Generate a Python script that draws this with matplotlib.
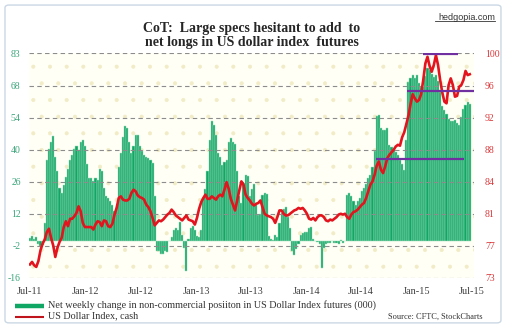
import matplotlib
matplotlib.use('Agg')
import matplotlib.pyplot as plt
import matplotlib.dates as mdates
from matplotlib.lines import Line2D
from matplotlib.patches import Rectangle, FancyBboxPatch
import numpy as np
import pandas as pd

plt.rcParams['font.family'] = ['Liberation Serif', 'DejaVu Serif']
plt.rcParams['hatch.linewidth'] = 0.5

# weekly net change in non-commercial positions (000), left axis
cot_net = [
    1.5, 2.5, 1.0, 2.0, -1.0, -2.0, -1.5, 8, 36, 41,
    44, 46.4, 37.5, 31, 23.5, 21.5, 25, 28.5, 32, 36,
    38.3, 41, 42, 40.5, 44, 45, 42, 34, 28, 28,
    26.5, 28, 27, 32, 31, 23.5, 20, 19, 18, 16,
    13.5, 15, 33, 39, 46, 51, 50, 44, 39, 42,
    47, 47, 42, 40, 38.3, 37.5, 37, 36, 34.6, 20,
    -4, -4.2, -5.5, -5.5, -4, -4.5, 0.2, 2, 5, 6,
    5, 8.8, 2.9, -3, -13, 1, 5.9, 7, 5, 2.2,
    1.8, 5, 19, 23, 31, 45, 53, 51.6, 47, 39,
    37.5, 33.8, 35, 36, 44, 45.6, 43.8, 43, 31, 20,
    17, 26, 29.4, 29, 20, 23, 25.5, 17, 11.5, 12,
    20.6, 21.3, 21, 2.5, 1, 0.5, 2.9, 2, 8, 12.5,
    14.5, 15.4, 11, 6, -4.4, -5.9, -3.2, -1, 3, 3.7,
    4.2, 4.4, 5.9, 6.6, 1, 0.3, -0.3, -1, -11.8, -3,
    -1, -0.5, -0.8, 0.4, -0.6, -0.5, -1.2, 0.5, -0.7, 0.4,
    20.6, 21.3, 20, 18, 16, 17.7, 19, 22.5, 23.5, 25.5,
    28, 29.5, 33, 40, 55.5, 56, 50, 49, 49.3, 50,
    42.7, 41.5, 40.5, 39.7, 38, 36, 34, 31.6, 45, 70.5,
    72, 73.5, 72, 73.5, 69.8, 68, 68, 73, 76.5, 75.5,
    74, 72.5, 73.5, 71, 66, 59.6, 58.2, 56.5, 54, 53,
    53, 53.5, 52.2, 51.5, 55, 58.5, 60.4, 61.8, 60.5,
]

# US dollar index, cash, right axis
usd_index = [
    74.6, 74.9, 74.5, 74.3, 75.0, 76.3, 77.1, 77.6, 78.5, 78.9,
    77.8, 76.9, 75.5, 76.6, 77.3, 77.8, 79.1, 79.8, 79.2, 80.1,
    80.1, 80.4, 80.8, 81.6, 81.0, 79.6, 79.1, 79.1, 79.1, 79.1,
    78.8, 79.4, 79.8, 79.7, 79.2, 79.9, 79.8, 79.2, 79.1, 79.5,
    80.6, 81.4, 82.6, 82.8, 82.4, 82.3, 82.3, 82.5, 83.2, 83.6,
    83.4, 82.9, 82.7, 82.6, 82.4, 81.8, 81.5, 81.0, 80.2, 79.3,
    79.6, 79.9, 79.8, 80.0, 80.3, 80.6, 80.8, 81.2, 80.9, 80.5,
    80.3, 80.1, 79.9, 80.2, 80.5, 80.0, 79.9, 79.8, 79.4, 80.2,
    81.3, 82.1, 82.6, 83.0, 82.5, 82.5, 82.8, 82.6, 82.4, 82.8,
    83.0, 82.8, 83.6, 84.5, 83.7, 82.5, 81.8, 81.1, 82.3, 83.5,
    84.6, 84.2, 83.0, 82.6, 82.3, 81.9, 81.7, 81.9, 82.0, 82.3,
    81.5, 80.7, 80.5, 80.4, 80.3, 80.1, 79.6, 80.3, 81.1, 81.1,
    80.7, 80.5, 80.5, 80.7, 80.9, 81.1, 81.2, 81.4, 81.3, 81.4,
    81.1, 80.7, 80.1, 80.0, 80.2, 79.9, 80.3, 80.5, 80.5, 80.3,
    79.9, 79.8, 80.0, 79.9, 80.1, 80.3, 80.6, 80.7, 80.6, 80.7,
    80.3, 80.1, 80.6, 80.9, 81.0, 81.2, 81.5, 81.8, 82.0, 82.6,
    83.4, 84.2, 84.6, 85.4, 86.5, 87.0, 86.0, 85.6, 86.4, 87.4,
    87.8, 88.1, 88.4, 88.8, 89.0, 88.9, 89.9, 90.5, 91.5, 92.5,
    93.9, 95.1, 94.6, 94.2, 94.4, 95.1, 96.8, 98.8, 99.6, 98.5,
    97.8, 98.6, 99.8, 98.6, 96.8, 95.3, 94.2, 94.0, 96.2, 97.0,
    96.2, 94.8, 94.9, 96.0, 96.2, 96.8, 97.9, 97.4, 97.5,
]

dates = pd.date_range('2011-07-01', periods=len(cot_net), freq='7D')

# purple reference lines drawn on the chart (right-axis level, start, end)
ref_levels = [99.9, 95.5, 87.3]
ref_starts = ['2015-01-23', '2014-12-01', '2014-08-20']
ref_ends = ['2015-05-19', '2015-07-13', '2015-06-07']

left_ticks = np.linspace(-16, 83, 8)
left_labels = ['-16', '-2', '12', '26', '40', '54', '68', '83']
right_ticks = np.linspace(73, 100, 8)
right_labels = ['73', '77', '81', '84', '88', '92', '96', '100']

green = '#10a663'
red = '#e3141e'
purple = '#7030a0'

fig = plt.figure(figsize=(5.10, 3.36), dpi=100)

# outer frame
fig.patches.append(FancyBboxPatch((0.0098, 0.039), 0.9725, 0.946,
                                  boxstyle='round,pad=0,rounding_size=0.008',
                                  transform=fig.transFigure, fill=False,
                                  ec='#cbd7e4', lw=1.0))

ax = fig.add_axes([0.0569, 0.1735, 0.8725, 0.6673])
ax.patch.set_facecolor('#fffff6')
ax.add_patch(Rectangle((0, 0), 1, 1, transform=ax.transAxes,
                       facecolor='none', edgecolor='#f1ecc6', hatch='.',
                       lw=0, zorder=0))

ax.bar(dates, cot_net, width=7, color=green, edgecolor='#a8e0c2',
       linewidth=0.35, zorder=1)
ax.set_ylim(-16, 83)
ax.set_yticks(left_ticks)
ax.set_yticklabels(left_labels)
ax.set_xlim(pd.Timestamp('2011-06-28'), pd.Timestamp('2015-07-10'))
ax.xaxis.set_major_locator(mdates.MonthLocator(bymonth=[1, 7]))
ax.xaxis.set_major_formatter(mdates.DateFormatter('%b-%y'))
ax.set_axisbelow(False)
ax.yaxis.grid(True, color='#8c8c8c', linestyle=(0, (4, 3)), lw=0.8)
ax.tick_params(axis='y', length=0, pad=6, labelsize=7, labelcolor='#3aa57a')
ax.tick_params(axis='x', length=0, pad=7, labelsize=7.5, labelcolor='#404040')
for s in ax.spines.values():
    s.set_visible(False)

ax2 = ax.twinx()
ax2.plot(dates, usd_index, color=red, lw=1.9, zorder=3)
for lev, a, b in zip(ref_levels, ref_starts, ref_ends):
    ax2.hlines(lev, pd.Timestamp(a), pd.Timestamp(b), color=purple, lw=1.6, zorder=4)
ax2.set_ylim(73, 100)
ax2.set_yticks(right_ticks)
ax2.set_yticklabels(right_labels)
ax2.tick_params(axis='y', length=0, pad=8, labelsize=7, labelcolor='#d9383a')
for s in ax2.spines.values():
    s.set_visible(False)

fig.text(0.494, 0.894, 'CoT:  Large specs hesitant to add  to\nnet longs in US dollar index  futures',
         ha='center', va='center', fontsize=10, fontweight='bold',
         color='#262626', linespacing=1.15)

fig.text(0.9706, 0.949, 'hedgopia.com', ha='right', va='center', fontsize=6.5,
         family=['Liberation Sans', 'DejaVu Sans'], color='#333333')
fig.add_artist(Line2D([0.853, 0.9706], [0.938, 0.938], transform=fig.transFigure,
                      color='#333333', lw=0.6))

# legend
fig.add_artist(Line2D([0.030, 0.086], [0.089, 0.089], transform=fig.transFigure,
                      color=green, lw=3.2, solid_capstyle='butt'))
fig.text(0.094, 0.091, 'Net weekly change in non-commercial posiiton in US Dollar Index futures (000)',
         ha='left', va='center', fontsize=7.3, color='#333333')
fig.add_artist(Line2D([0.030, 0.086], [0.058, 0.058], transform=fig.transFigure,
                      color='#c0141c', lw=1.5, solid_capstyle='butt'))
fig.text(0.094, 0.060, 'US Dollar Index, cash', ha='left', va='center',
         fontsize=7.3, color='#333333')
fig.text(0.946, 0.056, 'Source: CFTC, StockCharts', ha='right', va='center',
         fontsize=6, color='#333333')

fig.savefig('out.png', dpi=100)
